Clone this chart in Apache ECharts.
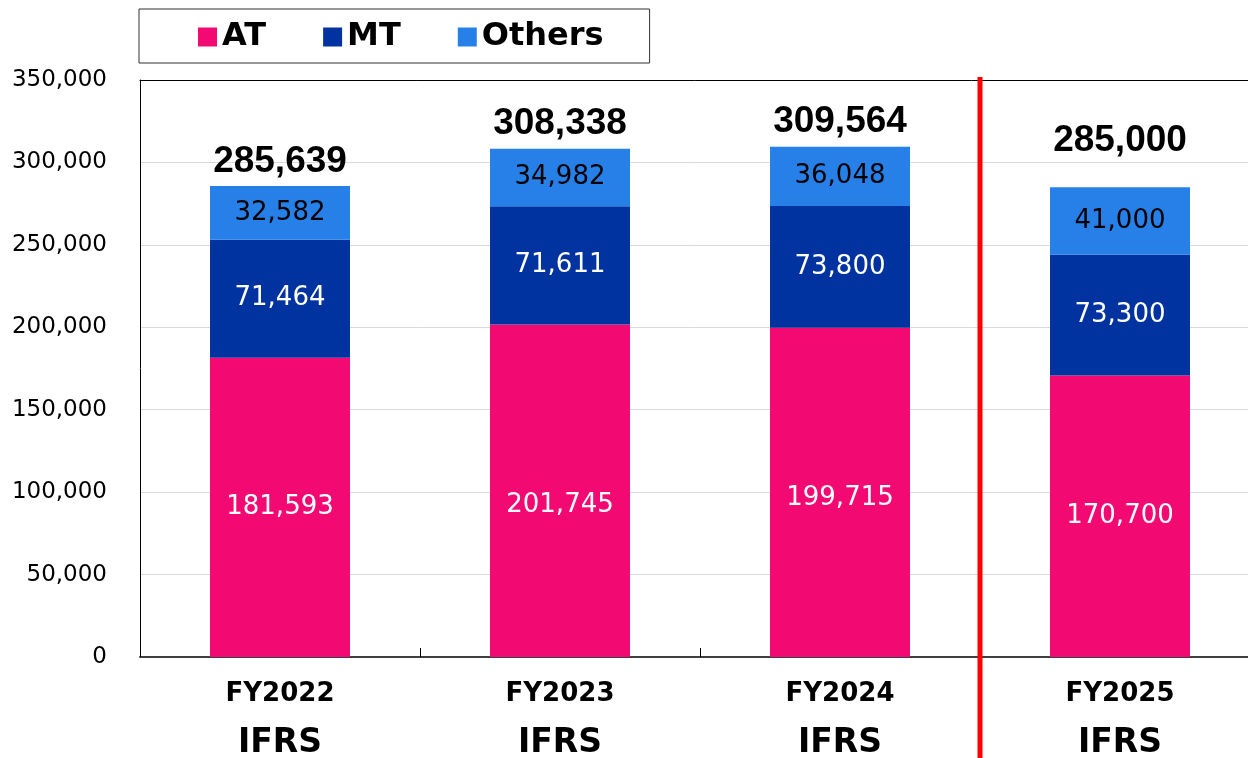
<!DOCTYPE html>
<html>
<head>
<meta charset="utf-8">
<script src="https://cdn.jsdelivr.net/npm/echarts@6/dist/echarts.min.js"></script>
<style>
html,body{margin:0;padding:0;background:#fff;}
#main{width:1248px;height:758px;}
</style>
</head>
<body>
<div id="main"></div>
<script>
var categories = ['FY2022', 'FY2023', 'FY2024', 'FY2025'];
var subLabels = ['IFRS', 'IFRS', 'IFRS', 'IFRS'];
var atValues = [181593, 201745, 199715, 170700];
var mtValues = [71464, 71611, 73800, 73300];
var othersValues = [32582, 34982, 36048, 41000];
var totals = [285639, 308338, 309564, 285000];
var yTicks = [0, 50000, 100000, 150000, 200000, 250000, 300000, 350000];

var COLORS = { AT: '#F20A72', MT: '#0033A0', Others: '#2680E8' };
var fmt = function (v) { return Number(v).toLocaleString('en-US'); };

var chart = echarts.init(document.getElementById('main'), null, { renderer: 'canvas' });

var inLabel = function (color) {
  return {
    show: true,
    position: 'inside',
    color: color,
    fontFamily: 'DejaVu Sans',
    fontSize: 26,
    formatter: function (p) { return fmt(p.value); }
  };
};

// label nudges (styling only) to mimic the reference placement
var atLabelShift = [0, 15, 6, 0];
var atData = atValues.map(function (v, i) {
  return atLabelShift[i] ? { value: v, label: { offset: [0, atLabelShift[i]] } } : v;
});

var totalData = totals.map(function (t, i) {
  var item = { value: 0 };
  if (i === 3) item.label = { offset: [0, -22] };
  return item;
});

var option = {
  animation: false,
  backgroundColor: '#ffffff',
  legend: {
    data: ['AT', 'MT', 'Others'],
    left: 139,
    top: 9,
    padding: [12, 46, 10, 59],
    itemGap: 57,
    itemWidth: 19,
    itemHeight: 19,
    icon: 'rect',
    borderColor: '#333',
    borderWidth: 1,
    borderRadius: 0,
    textStyle: { color: '#000', fontFamily: 'DejaVu Sans', fontWeight: 'bold', fontSize: 32 }
  },
  grid: {
    left: 140,
    top: 80,
    bottom: 101,
    width: 1120,
    containLabel: false,
    outerBoundsMode: 'none',
    show: false
  },
  xAxis: [
    {
      type: 'category',
      data: categories,
      axisLine: { lineStyle: { color: '#404040', width: 2 } },
      axisTick: { show: true, inside: true, length: 9, lineStyle: { color: '#000', width: 1 } },
      axisLabel: {
        margin: 18,
        formatter: function (v, i) { return '{a|' + v + '}\n{b|' + subLabels[i] + '}'; },
        rich: {
          a: { fontFamily: 'DejaVu Sans', fontWeight: 'bold', fontSize: 26, color: '#000', lineHeight: 38 },
          b: { fontFamily: 'DejaVu Sans', fontWeight: 'bold', fontSize: 33, color: '#000', lineHeight: 60 }
        }
      }
    },
    {
      type: 'category',
      data: categories,
      position: 'top',
      axisLine: { show: true, lineStyle: { color: '#000', width: 1 } },
      axisTick: { show: false },
      axisLabel: { show: false },
      splitLine: { show: false }
    }
  ],
  yAxis: {
    type: 'value',
    min: yTicks[0],
    max: yTicks[yTicks.length - 1],
    interval: yTicks[1] - yTicks[0],
    axisLine: { show: true, lineStyle: { color: '#000', width: 1 } },
    axisTick: { show: false },
    splitLine: { lineStyle: { color: '#d9d9d9', width: 1 } },
    axisLabel: {
      margin: 33,
      color: '#000',
      fontFamily: 'DejaVu Sans',
      fontSize: 23,
      formatter: function (v) { return fmt(v); }
    }
  },
  series: [
    {
      name: 'AT', type: 'bar', stack: 'total', barWidth: '50%',
      data: atData,
      itemStyle: { color: COLORS.AT },
      label: inLabel('#fff')
    },
    {
      name: 'MT', type: 'bar', stack: 'total',
      data: mtValues,
      itemStyle: { color: COLORS.MT },
      label: inLabel('#fff')
    },
    {
      name: 'Others', type: 'bar', stack: 'total',
      data: othersValues,
      itemStyle: { color: COLORS.Others },
      label: inLabel('#000')
    },
    {
      name: 'Total', type: 'bar', stack: 'total',
      data: totalData,
      itemStyle: { color: 'transparent' },
      label: {
        show: true,
        position: 'top',
        distance: 6,
        color: '#000',
        fontFamily: 'Liberation Sans',
        fontWeight: 'bold',
        fontSize: 37,
        formatter: function (p) { return fmt(totals[p.dataIndex]); }
      }
    }
  ]
};

chart.setOption(option);

var x3 = chart.convertToPixel({ xAxisIndex: 0 }, categories[2]);
var x4 = chart.convertToPixel({ xAxisIndex: 0 }, categories[3]);
var sepX = (x3 + x4) / 2;
chart.setOption({
  graphic: [{
    type: 'line',
    z: 100,
    shape: { x1: sepX, y1: 77, x2: sepX, y2: 758 },
    style: { stroke: '#ff0000', lineWidth: 5 }
  }]
});
</script>
</body>
</html>
